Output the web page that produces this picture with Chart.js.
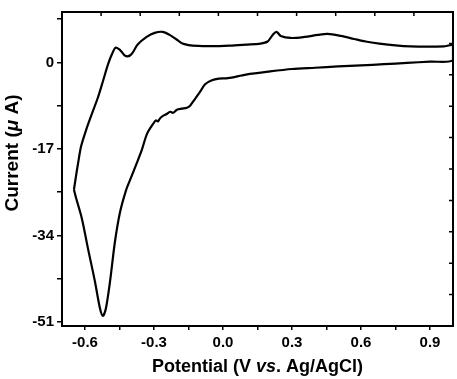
<!DOCTYPE html>
<html>
<head>
<meta charset="utf-8">
<script src="https://cdn.jsdelivr.net/npm/chart.js@4/dist/chart.umd.min.js"></script>
<style>
  body { margin: 0; background: #fff; }
  #wrap { width: 457px; height: 379px; }
</style>
</head>
<body>
<div id="wrap"><canvas id="cv" width="457" height="379"></canvas></div>
<script>
// cyclic voltammogram
// anodic branch: left vertex -> right end
const upPotential = [-0.648, -0.639, -0.630, -0.617, -0.596, -0.570, -0.543, -0.522, -0.500, -0.483,
    -0.467, -0.452, -0.441, -0.428, -0.415, -0.403, -0.393, -0.371, -0.332, -0.297,
    -0.262, -0.232, -0.202, -0.176, -0.150, -0.132, -0.050, 0.029, 0.100, 0.163,
    0.194, 0.216, 0.233, 0.251, 0.294, 0.355, 0.412, 0.455, 0.512, 0.570,
    0.620, 0.680, 0.750, 0.816, 0.890, 0.960, 1.000];
const upCurrent = [-25.0, -22.3, -19.8, -16.5, -13.4, -10.1, -6.8, -3.7, -0.4, 1.6,
    2.9, 2.6, 2.1, 1.4, 1.2, 1.4, 1.9, 3.5, 5.0, 5.8,
    6.0, 5.4, 4.5, 3.7, 3.4, 3.3, 3.2, 3.3, 3.5, 3.7,
    4.1, 5.4, 6.0, 5.2, 4.8, 5.0, 5.4, 5.6, 5.2, 4.6,
    4.1, 3.7, 3.35, 3.15, 3.1, 3.15, 3.3];

// cathodic branch: right end -> back to left vertex
const downPotential = [1.000, 0.900, 0.800, 0.700, 0.600, 0.500, 0.400, 0.300, 0.200, 0.100,
    0.021, -0.018, -0.048, -0.078, -0.100, -0.122, -0.143, -0.157, -0.179, -0.200,
    -0.217, -0.230, -0.243, -0.261, -0.274, -0.283, -0.292, -0.304, -0.330, -0.353,
    -0.375, -0.404, -0.422, -0.448, -0.470, -0.491, -0.509, -0.522, -0.535, -0.557,
    -0.587, -0.613, -0.639, -0.648];
const downCurrent = [0.4, 0.15, -0.1, -0.35, -0.6, -0.8, -1.05, -1.3, -1.8, -2.4,
    -3.1, -3.2, -3.5, -4.3, -5.8, -7.2, -8.5, -8.9, -9.1, -9.3,
    -9.9, -9.7, -10.1, -10.5, -11.0, -11.6, -11.4, -12.1, -14.0, -17.2,
    -19.8, -23.1, -25.2, -29.5, -35.3, -43.0, -48.3, -49.8, -48.3, -43.0,
    -36.6, -30.8, -26.6, -25.0];

const xTickValues = [-0.6, -0.45, -0.3, -0.15, 0, 0.15, 0.3, 0.45, 0.6, 0.75, 0.9];
const xTickLabels = ["-0.6", "", "-0.3", "", "0.0", "", "0.3", "", "0.6", "", "0.9"];
const yTickValues = [-51, -42.5, -34, -25.5, -17, -8.5, 0, 8.5];
const yTickLabels = ["-51", "", "-34", "", "-17", "", "0", ""];

const FONT = "'Liberation Sans', Arial, sans-serif";

const points = [];
upPotential.forEach((v, i) => points.push({ x: v, y: upCurrent[i] }));
downPotential.forEach((v, i) => points.push({ x: v, y: downCurrent[i] }));

function labelFor(values, labels, v) {
    const i = values.findIndex((t) => Math.abs(t - v) < 1e-6);
    return i < 0 ? "" : labels[i];
}

// frame on top/right with inward ticks (10 divisions, like the original)
const framePlugin = {
    id: "frame",
    afterDraw(chart) {
        const { ctx, chartArea: a } = chart;
        ctx.save();
        ctx.strokeStyle = "#000";
        ctx.lineWidth = 2;
        ctx.strokeRect(a.left, a.top, a.right - a.left, a.bottom - a.top);
        ctx.lineWidth = 1.5;
        ctx.beginPath();
        for (let k = 1; k < 10; k++) {
            const px = a.left + ((a.right - a.left) * k) / 10;
            ctx.moveTo(px, a.top);
            ctx.lineTo(px, a.top + 4);
            const py = a.top + ((a.bottom - a.top) * k) / 10;
            ctx.moveTo(a.right, py);
            ctx.lineTo(a.right - 4, py);
        }
        ctx.stroke();

        // axis titles with italic parts
        const drawParts = (parts, cx, cy) => {
            let total = 0;
            parts.forEach((p) => {
                ctx.font = p[1] + FONT;
                total += ctx.measureText(p[0]).width;
            });
            let x = cx - total / 2;
            parts.forEach((p) => {
                ctx.font = p[1] + FONT;
                ctx.fillText(p[0], x, cy);
                x += ctx.measureText(p[0]).width;
            });
        };
        ctx.fillStyle = "#000";
        ctx.textBaseline = "middle";
        ctx.textAlign = "left";
        drawParts([["Potential (V ", "bold 18px "], ["vs", "italic bold 18px "], [". Ag/AgCl)", "bold 18px "]],
            (a.left + a.right) / 2, 367);
        ctx.translate(13, 153);
        ctx.rotate(-Math.PI / 2);
        drawParts([["Current (", "bold 19px "], ["\u03bc", "italic bold 19px "], [" A)", "bold 19px "]], 0, 0);
        ctx.restore();
    },
};

new Chart(document.getElementById("cv"), {
    type: "scatter",
    data: {
        datasets: [{
            data: points,
            showLine: true,
            borderColor: "#000",
            borderWidth: 2.2,
            pointRadius: 0,
            tension: 0.3,
            fill: false,
        }],
    },
    options: {
        responsive: false,
        animation: false,
        devicePixelRatio: 1,
        layout: { padding: { top: 7, right: 4, left: 0, bottom: 0 } },
        plugins: { legend: { display: false }, tooltip: { enabled: false } },
        scales: {
            x: {
                type: "linear",
                min: -0.7,
                max: 1.0,
                afterBuildTicks: (s) => { s.ticks = xTickValues.map((v) => ({ value: v })); },
                afterFit: (s) => { s.height = 53; },
                ticks: {
                    autoSkip: false,
                    maxRotation: 0,
                    padding: 4,
                    color: "#000",
                    font: { family: FONT, size: 15, weight: "bold" },
                    callback: (v) => labelFor(xTickValues, xTickLabels, v),
                },
                grid: { drawOnChartArea: false, tickLength: 4, color: "#000", lineWidth: 1.5 },
                border: { color: "#000", width: 2 },
            },
            y: {
                min: -51.8,
                max: 9.9,
                afterBuildTicks: (s) => { s.ticks = yTickValues.map((v) => ({ value: v })); },
                afterFit: (s) => { s.width = 62; },
                ticks: {
                    autoSkip: false,
                    padding: 3,
                    color: "#000",
                    font: { family: FONT, size: 15, weight: "bold" },
                    callback: (v) => labelFor(yTickValues, yTickLabels, v),
                },
                grid: { drawOnChartArea: false, tickLength: 5, color: "#000", lineWidth: 1.5 },
                border: { color: "#000", width: 2 },
            },
        },
    },
    plugins: [framePlugin],
});
</script>
</body>
</html>
